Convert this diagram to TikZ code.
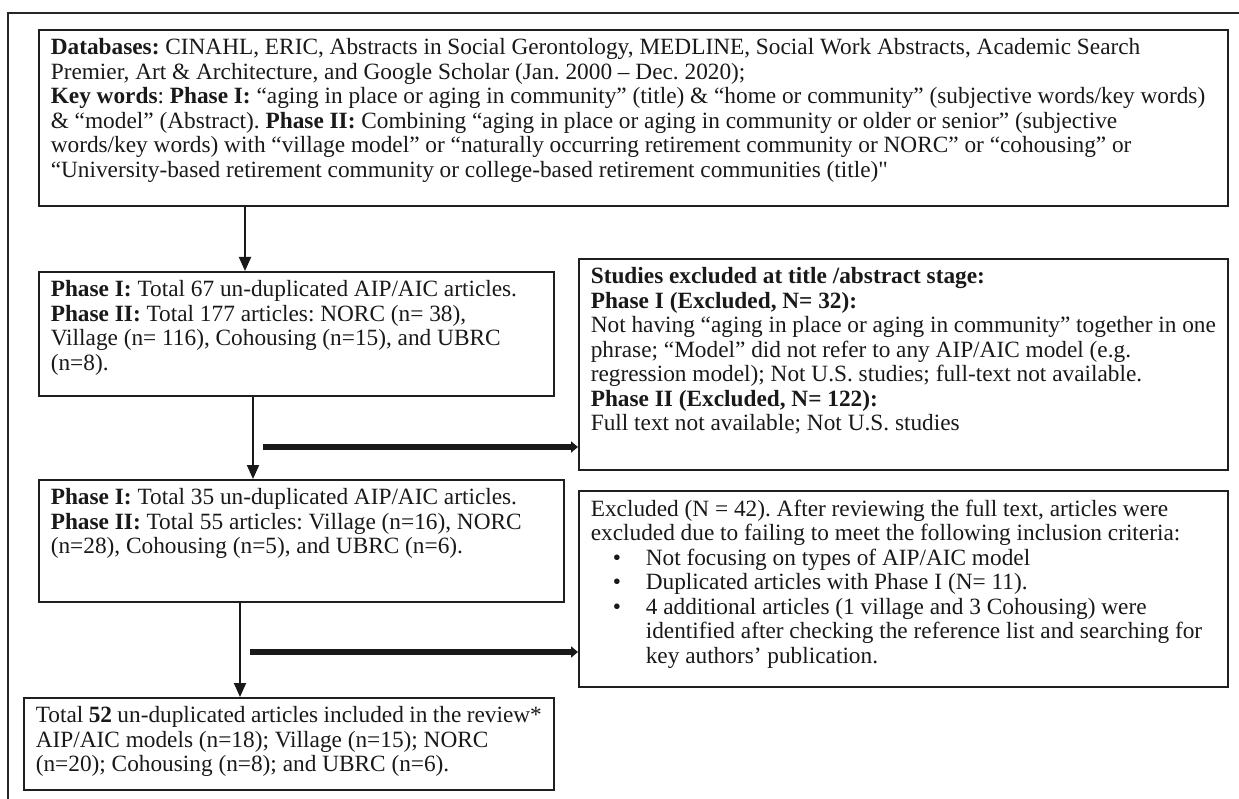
\documentclass[tikz,border=0pt]{standalone}
\usepackage{fontspec}
\setmainfont{Liberation Serif}
\usetikzlibrary{arrows.meta}
\newcommand{\tbox}[3]{\parbox[c][#2][t]{#1}{\raggedright\frenchspacing\vspace*{9pt}#3}}
\newcommand{\bitem}[1]{\hspace*{22pt}\makebox[33pt][l]{•}#1}
\newcommand{\bcont}{\hspace*{55pt}}
\newcommand{\straightquote}{{\addfontfeatures{Ligatures=TeXOff}"}}
\tikzset{
  box/.style={draw=black!88, line width=1.6pt, anchor=north west, inner xsep=12pt, inner ysep=0pt, text=black!90,
    font=\fontsize{23.3pt}{24.5pt}\selectfont},
  thinarrow/.style={draw=black!90, line width=2pt, -{Triangle[width=12pt,length=14pt]}},
  thickarrow/.style={draw=black!90, line width=6.5pt, -{Triangle[width=11pt,length=7pt]}},
}
\begin{document}
\begin{tikzpicture}[x=1pt,y=-1pt]
\useasboundingbox (0,0) rectangle (1239,799);
\fill[white] (0,0) rectangle (1239,799);
\draw[black!85, line width=1.4pt] (8,799) -- (8,13) -- (1239,13);

\node[box] (b1) at (38,29) {\tbox{1165pt}{176pt}{%
\textbf{Databases:} CINAHL, ERIC, Abstracts in Social Gerontology, MEDLINE, Social Work Abstracts, Academic Search\\
Premier, Art \& Architecture, and Google Scholar (Jan. 2000 – Dec. 2020);\\
\textbf{Key words}: \textbf{Phase I:} “aging in place or aging in community” (title) \& “home or community” (subjective words/key words)\\
\& “model” (Abstract). \textbf{Phase II:} Combining “aging in place or aging in community or older or senior” (subjective\\
words/key words) with “village model” or “naturally occurring retirement community or NORC” or “cohousing” or\\
“University-based retirement community or college-based retirement communities (title)\straightquote}};

\node[box] (b2) at (38,271) {\tbox{491pt}{124pt}{%
\textbf{Phase I:} Total 67 un-duplicated AIP/AIC articles.\\
\textbf{Phase II:} Total 177 articles: NORC (n= 38),\\
Village (n= 116), Cohousing (n=15), and UBRC\\
(n=8).}};

\node[box] (b3) at (578,258) {\tbox{625pt}{211pt}{%
\textbf{Studies excluded at title /abstract stage:}\\
\textbf{Phase I (Excluded, N= 32):}\\
Not having “aging in place or aging in community” together in one\\
phrase; “Model” did not refer to any AIP/AIC model (e.g.\\
regression model); Not U.S. studies; full-text not available.\\
\textbf{Phase II (Excluded, N= 122):}\\
Full text not available; Not U.S. studies}};

\node[box] (b4) at (38,479) {\tbox{501pt}{122pt}{%
\textbf{Phase I:} Total 35 un-duplicated AIP/AIC articles.\\
\textbf{Phase II:} Total 55 articles: Village (n=16), NORC\\
(n=28), Cohousing (n=5), and UBRC (n=6).}};

\node[box] (b5) at (578,490) {\tbox{625pt}{196pt}{%
Excluded (N = 42). After reviewing the full text, articles were\\
excluded due to failing to meet the following inclusion criteria:\\
\bitem{Not focusing on types of AIP/AIC model}\\
\bitem{Duplicated articles with Phase I (N= 11).}\\
\bitem{4 additional articles (1 village and 3 Cohousing) were}\\
\bcont identified after checking the reference list and searching for\\
\bcont key authors’ publication.}};

\node[box] (b6) at (23,697) {\tbox{506pt}{92pt}{%
Total \textbf{52} un-duplicated articles included in the review*\\
AIP/AIC models (n=18); Village (n=15); NORC\\
(n=20); Cohousing (n=8); and UBRC (n=6).}};

\coordinate (x1) at (245,0);
\coordinate (x2) at (253,0);
\coordinate (x3) at (240,0);
\coordinate (h1) at (263,447);
\coordinate (h2) at (250,652);

\draw[thinarrow] (b1.south -| x1) -- (b2.north -| x1);
\draw[thinarrow] (b2.south -| x2) -- (b4.north -| x2);
\draw[thinarrow] (b4.south -| x3) -- (b6.north -| x3);
\draw[thickarrow] (h1) -- (b3.west |- h1);
\draw[thickarrow] (h2) -- (b5.west |- h2);
\end{tikzpicture}
\end{document}
